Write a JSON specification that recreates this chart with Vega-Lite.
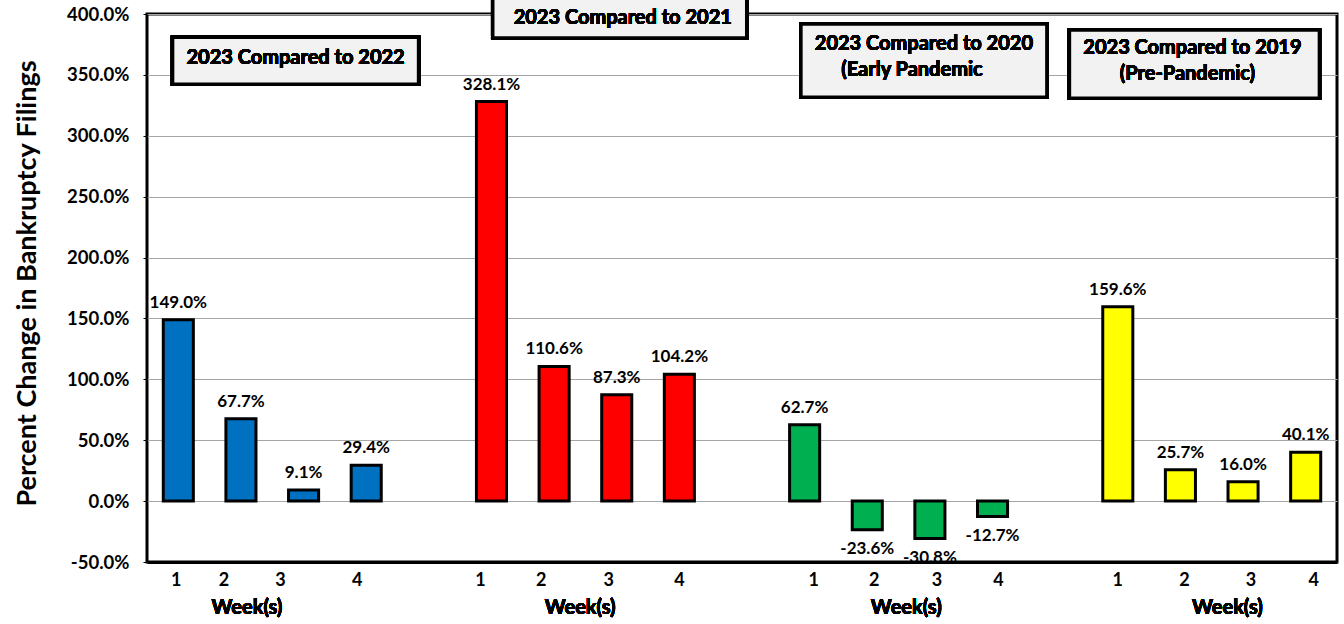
{
  "$schema": "https://vega.github.io/schema/vega-lite/v6.json",
  "width": 1190,
  "height": 548,
  "autosize": {"type": "none"},
  "padding": {"left": 147, "top": 14, "right": 7, "bottom": 62},
  "background": "white",
  "config": {
    "font": "Lato",
    "view": {"stroke": "black", "strokeWidth": 3},
    "locale": {
      "number": {"decimal": ".", "thousands": ",", "grouping": [3], "currency": ["$", ""], "minus": "-"}
    }
  },
  "data": {
    "values": [
      {"key": "2022-1", "comparison": "2022", "week": "1", "pct": 1.490},
      {"key": "2022-2", "comparison": "2022", "week": "2", "pct": 0.677},
      {"key": "2022-3", "comparison": "2022", "week": "3", "pct": 0.091},
      {"key": "2022-4", "comparison": "2022", "week": "4", "pct": 0.294},
      {"key": "2021-1", "comparison": "2021", "week": "1", "pct": 3.281},
      {"key": "2021-2", "comparison": "2021", "week": "2", "pct": 1.106},
      {"key": "2021-3", "comparison": "2021", "week": "3", "pct": 0.873},
      {"key": "2021-4", "comparison": "2021", "week": "4", "pct": 1.042},
      {"key": "2020-1", "comparison": "2020", "week": "1", "pct": 0.627},
      {"key": "2020-2", "comparison": "2020", "week": "2", "pct": -0.236},
      {"key": "2020-3", "comparison": "2020", "week": "3", "pct": -0.308},
      {"key": "2020-4", "comparison": "2020", "week": "4", "pct": -0.127},
      {"key": "2019-1", "comparison": "2019", "week": "1", "pct": 1.596},
      {"key": "2019-2", "comparison": "2019", "week": "2", "pct": 0.257},
      {"key": "2019-3", "comparison": "2019", "week": "3", "pct": 0.160},
      {"key": "2019-4", "comparison": "2019", "week": "4", "pct": 0.401}
    ]
  },
  "encoding": {
    "x": {
      "field": "key",
      "type": "nominal",
      "sort": null,
      "scale": {
        "domain": ["2022-1", "2022-2", "2022-3", "2022-4", "gap-a", "2021-1", "2021-2", "2021-3", "2021-4", "gap-b", "2020-1", "2020-2", "2020-3", "2020-4", "gap-c", "2019-1", "2019-2", "2019-3", "2019-4"],
        "paddingInner": 0.52,
        "paddingOuter": 0.26
      },
      "axis": {
        "title": null,
        "labelExpr": "slice(datum.value, 0, 3) == 'gap' ? '' : slice(datum.value, 5)",
        "labelAngle": 0,
        "labelFont": "Lato",
        "labelFontSize": 18,
        "labelFontWeight": "bold",
        "labelColor": "black",
        "labelPadding": 9,
        "ticks": false,
        "domain": true,
        "domainColor": "black",
        "domainWidth": 3,
        "labelOffset": {
          "condition": [
            {"test": "datum.value == '2022-1'", "value": -2},
            {"test": "datum.value == '2022-2'", "value": -17},
            {"test": "datum.value == '2022-3'", "value": -23},
            {"test": "datum.value == '2022-4'", "value": -9},
            {"test": "datum.value == '2021-1'", "value": -11},
            {"test": "datum.value == '2021-2'", "value": -13},
            {"test": "datum.value == '2021-3'", "value": -8},
            {"test": "datum.value == '2020-1'", "value": 9},
            {"test": "datum.value == '2020-2'", "value": 7},
            {"test": "datum.value == '2020-3'", "value": 7},
            {"test": "datum.value == '2020-4'", "value": 6},
            {"test": "datum.value == '2019-2'", "value": 4},
            {"test": "datum.value == '2019-3'", "value": 8},
            {"test": "datum.value == '2019-4'", "value": 8}
          ],
          "value": 0
        }
      }
    },
    "y": {
      "field": "pct",
      "type": "quantitative",
      "scale": {"domain": [-0.5, 4], "nice": false, "zero": false},
      "axis": {
        "title": "Percent Change in Bankruptcy Filings",
        "titleFont": "Lato",
        "titleFontSize": 27,
        "titleFontWeight": "bold",
        "titleColor": "black",
        "titleAngle": -90,
        "titleX": -120,
        "titleY": 269,
        "titleAlign": "center",
        "titleBaseline": "middle",
        "format": ".1%",
        "values": [-0.5, 0, 0.5, 1, 1.5, 2, 2.5, 3, 3.5, 4],
        "labelFont": "Lato",
        "labelFontSize": 18.5,
        "labelFontWeight": "bold",
        "labelColor": "black",
        "labelPadding": 14,
        "tickSize": 4,
        "tickColor": "black",
        "domain": false,
        "grid": true,
        "gridColor": "#a6a6a6",
        "gridWidth": 1
      }
    }
  },
  "layer": [
    {
      "mark": {"type": "bar", "stroke": "black", "strokeWidth": 3},
      "encoding": {
        "color": {
          "field": "comparison",
          "type": "nominal",
          "scale": {"domain": ["2022", "2021", "2020", "2019"], "range": ["#0070C0", "#FF0000", "#00B050", "#FFFF00"]},
          "legend": null
        }
      }
    },
    {
      "transform": [{"filter": "datum.pct >= 0"}],
      "mark": {"type": "text", "baseline": "middle", "dy": -17, "font": "Lato", "fontSize": 17, "fontWeight": "bold", "color": "black"},
      "encoding": {"text": {"field": "pct", "type": "quantitative", "format": ".1%"}}
    },
    {
      "transform": [{"filter": "datum.pct < 0"}],
      "mark": {"type": "text", "baseline": "middle", "dy": 19, "font": "Lato", "fontSize": 17, "fontWeight": "bold", "color": "black", "clip": true},
      "encoding": {"text": {"field": "pct", "type": "quantitative", "format": ".1%"}}
    },
    {
      "mark": {"type": "text", "text": "Week(s)", "dx": 6, "dy": 46, "baseline": "middle", "font": "Lato", "fontSize": 20, "fontWeight": "bold", "color": "black"},
      "encoding": {"x": {"datum": "2022-2"}, "y": {"datum": -0.5}}
    },
    {
      "mark": {"type": "text", "text": "Week(s)", "dx": 26, "dy": 46, "baseline": "middle", "font": "Lato", "fontSize": 20, "fontWeight": "bold", "color": "black"},
      "encoding": {"x": {"datum": "2021-2"}, "y": {"datum": -0.5}}
    },
    {
      "mark": {"type": "text", "text": "Week(s)", "dx": 39, "dy": 46, "baseline": "middle", "font": "Lato", "fontSize": 20, "fontWeight": "bold", "color": "black"},
      "encoding": {"x": {"datum": "2020-2"}, "y": {"datum": -0.5}}
    },
    {
      "mark": {"type": "text", "text": "Week(s)", "dx": 47, "dy": 46, "baseline": "middle", "font": "Lato", "fontSize": 20, "fontWeight": "bold", "color": "black"},
      "encoding": {"x": {"datum": "2019-2"}, "y": {"datum": -0.5}}
    },
    {
      "mark": {"type": "bar", "width": 246, "xOffset": -8, "fill": "#f2f2f2", "stroke": "black", "strokeWidth": 3.5},
      "encoding": {"x": {"datum": "2022-3"}, "y": {"datum": 3.810}, "y2": {"datum": 3.424}}
    },
    {
      "mark": {"type": "text", "text": "2023 Compared to 2022", "dx": -8, "baseline": "middle", "font": "Lato", "fontSize": 20, "fontWeight": "bold", "color": "black"},
      "encoding": {"x": {"datum": "2022-3"}, "y": {"datum": 3.638}}
    },
    {
      "mark": {"type": "bar", "width": 254, "xOffset": 3, "fill": "#f2f2f2", "stroke": "black", "strokeWidth": 3.5},
      "encoding": {"x": {"datum": "2021-3"}, "y": {"datum": 4.147}, "y2": {"datum": 3.802}}
    },
    {
      "mark": {"type": "text", "text": "2023 Compared to 2021", "dx": 6, "baseline": "middle", "font": "Lato", "fontSize": 20, "fontWeight": "bold", "color": "black"},
      "encoding": {"x": {"datum": "2021-3"}, "y": {"datum": 3.965}}
    },
    {
      "mark": {"type": "bar", "width": 246, "xOffset": -6, "fill": "#f2f2f2", "stroke": "black", "strokeWidth": 3.5},
      "encoding": {"x": {"datum": "2020-3"}, "y": {"datum": 3.917}, "y2": {"datum": 3.317}}
    },
    {
      "mark": {"type": "text", "text": "2023 Compared to 2020", "dx": -6, "baseline": "middle", "font": "Lato", "fontSize": 20, "fontWeight": "bold", "color": "black"},
      "encoding": {"x": {"datum": "2020-3"}, "y": {"datum": 3.753}}
    },
    {
      "mark": {"type": "text", "text": "(Early Pandemic", "dx": -18, "baseline": "middle", "font": "Lato", "fontSize": 20, "fontWeight": "bold", "color": "black"},
      "encoding": {"x": {"datum": "2020-3"}, "y": {"datum": 3.539}}
    },
    {
      "mark": {"type": "bar", "width": 250, "xOffset": 14, "fill": "#f2f2f2", "stroke": "black", "strokeWidth": 3.5},
      "encoding": {"x": {"datum": "2019-2"}, "y": {"datum": 3.868}, "y2": {"datum": 3.309}}
    },
    {
      "mark": {"type": "text", "text": "2023 Compared to 2019", "dx": 12, "baseline": "middle", "font": "Lato", "fontSize": 20, "fontWeight": "bold", "color": "black"},
      "encoding": {"x": {"datum": "2019-2"}, "y": {"datum": 3.720}}
    },
    {
      "mark": {"type": "text", "text": "(Pre-Pandemic)", "dx": 7, "baseline": "middle", "font": "Lato", "fontSize": 20, "fontWeight": "bold", "color": "black"},
      "encoding": {"x": {"datum": "2019-2"}, "y": {"datum": 3.506}}
    }
  ]
}
